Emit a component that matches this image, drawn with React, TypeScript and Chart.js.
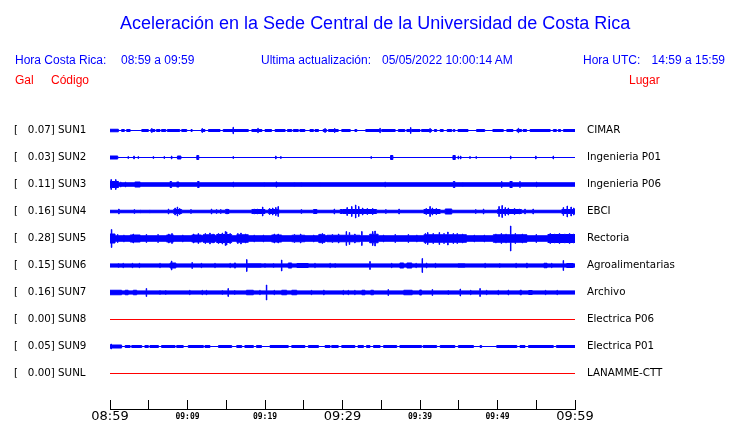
import React, { useEffect, useRef } from "react";
import { Chart, registerables } from "chart.js";

Chart.register(...registerables);

// ---------- data ----------
const STATIONS = ["SUN1", "SUN2", "SUN3", "SUN4", "SUN5", "SUN6", "SUN7", "SUN8", "SUN9", "SUNL"];
const PEAK_GAL = [0.07, 0.03, 0.11, 0.16, 0.28, 0.15, 0.16, 0.0, 0.05, 0.0];
const PLACES = [
  "CIMAR", "Ingenieria P01", "Ingenieria P06", "EBCI", "Rectoria",
  "Agroalimentarias", "Archivo", "Electrica P06", "Electrica P01", "LANAMME-CTT",
];
const TRACE_COLORS = ["#0000ff", "#0000ff", "#0000ff", "#0000ff", "#0000ff", "#0000ff", "#0000ff", "#ff0000", "#0000ff", "#ff0000"];
// background (noise) half-amplitude of each trace, gal
const BASE_GAL = [0, 0, 0.035, 0.025, 0.055, 0.032, 0.032, 0, 0, 0];

// minutes after 08:59
const TIME_TICKS = [0, 5, 10, 15, 20, 25, 30, 35, 40, 45, 50, 55, 60];
const TIME_LABELS = ["08:59", "", "09:09", "", "09:19", "", "09:29", "", "09:39", "", "09:49", "", "09:59"];
const BIG_LABELS = ["08:59", "09:29", "09:59"];

// [start minute, end minute, half-amplitude gal]
const SUN1_BLOCKS = [
  [0, 1.08, 0.025], [1.5, 1.85, 0.02], [2.15, 2.6, 0.02], [4.1, 4.95, 0.02], [5.25, 5.8, 0.02], [6.0, 6.45, 0.02],
  [6.65, 7.2, 0.02], [7.4, 9.0, 0.02], [9.25, 9.9, 0.02], [10.45, 10.6, 0.02], [11.8, 12.25, 0.02], [12.7, 14.2, 0.02],
  [14.6, 17.85, 0.02], [18.3, 19.6, 0.02], [20.0, 20.85, 0.02], [21.3, 22.6, 0.02], [22.9, 23.45, 0.02], [23.65, 24.3, 0.02],
  [24.5, 25.15, 0.02], [25.8, 26.25, 0.02], [26.45, 26.9, 0.02], [27.5, 27.95, 0.02], [28.2, 29.45, 0.02], [29.9, 31.0, 0.02],
  [31.6, 31.85, 0.02], [33.0, 34.85, 0.02], [35.05, 36.8, 0.02], [37.2, 38.05, 0.02], [38.3, 38.7, 0.02], [38.9, 40.0, 0.02],
  [40.2, 41.5, 0.02], [41.85, 42.15, 0.02], [42.6, 43.0, 0.02], [43.5, 44.1, 0.02], [44.3, 44.5, 0.02], [44.9, 46.2, 0.02],
  [47.3, 48.35, 0.02], [49.4, 50.75, 0.02], [51.2, 52.0, 0.02], [52.5, 53.1, 0.02], [53.3, 53.75, 0.02], [54.2, 56.8, 0.02],
  [57.2, 57.6, 0.02], [57.85, 58.15, 0.02], [58.5, 60, 0.02],
];
// [minute, half-amplitude gal]
const SUN1_SPIKES = [
  [5.4, 0.04], [11.9, 0.04], [15.9, 0.065], [19.1, 0.045], [27.75, 0.04], [29.0, 0.04],
  [34.85, 0.045], [38.8, 0.06], [41.3, 0.04], [52.7, 0.045],
];

const SUN2_BLOCKS = [[0, 1.0, 0.03], [8.7, 9.15, 0.03], [11.2, 11.45, 0.04], [36.2, 36.5, 0.04], [44.25, 44.55, 0.04]];
const SUN2_SPIKES = [
  [2.35, 0.02], [3.1, 0.03], [3.65, 0.02], [5.6, 0.02], [7.0, 0.02], [7.95, 0.03], [15.9, 0.02], [21.4, 0.03],
  [22.05, 0.02], [33.7, 0.02], [44.95, 0.03], [45.25, 0.03], [46.45, 0.02], [47.25, 0.02], [51.7, 0.03],
  [54.95, 0.03], [57.2, 0.03],
];

const SUN3_BLOCKS = [
  [0, 1.1, 0.06], [3.2, 3.9, 0.05], [7.75, 7.95, 0.06], [8.6, 8.9, 0.05], [11.3, 11.5, 0.06],
  [21.4, 21.55, 0.05], [44.3, 44.5, 0.06], [51.6, 51.9, 0.06],
];
const SUN3_SPIKES = [
  [0.15, 0.1], [0.75, 0.1], [1.4, 0.05], [2.0, 0.05], [15.9, 0.05], [19.9, 0.04], [23.8, 0.04], [24.7, 0.04],
  [27.1, 0.04], [35.5, 0.05], [45.5, 0.04], [50.55, 0.06], [52.9, 0.06], [55.05, 0.05], [59.6, 0.04],
];

const SUN4_BLOCKS = [
  [8.2, 9.25, 0.04], [14.9, 15.35, 0.04], [18.3, 20.0, 0.04], [20.45, 21.8, 0.04], [26.25, 26.7, 0.04],
  [29.7, 34.4, 0.04], [40.5, 42.6, 0.04], [43.25, 44.1, 0.05], [50.0, 53.1, 0.04], [58.3, 60, 0.04],
];
const SUN4_SPIKES = [
  [1.15, 0.05], [3.15, 0.04], [3.9, 0.03], [5.15, 0.03], [7.55, 0.05], [8.4, 0.07], [8.7, 0.09], [9.0, 0.06],
  [10.45, 0.04], [13.1, 0.05], [13.75, 0.04], [14.3, 0.04], [15.1, 0.05], [18.6, 0.05], [19.0, 0.05], [19.7, 0.09],
  [20.6, 0.06], [21.0, 0.07], [21.4, 0.08], [21.7, 0.1], [24.7, 0.04], [28.95, 0.05], [30.0, 0.04], [30.6, 0.08],
  [31.2, 0.1], [31.7, 0.13], [32.1, 0.1], [32.6, 0.07], [33.2, 0.06], [33.9, 0.06], [35.6, 0.04], [37.3, 0.05],
  [40.8, 0.06], [41.3, 0.1], [41.6, 0.07], [42.1, 0.06], [47.2, 0.04], [48.2, 0.05], [50.2, 0.1], [50.6, 0.12],
  [51.0, 0.08], [51.4, 0.07], [52.2, 0.06], [52.8, 0.05], [53.55, 0.05], [54.6, 0.05], [58.5, 0.08], [59.0, 0.11],
  [59.5, 0.09], [59.85, 0.07],
];

const SUN5_BLOCKS = [
  [0, 0.65, 0.09], [2.6, 3.9, 0.07], [7.3, 8.2, 0.07], [10.55, 11.8, 0.07], [12.0, 13.55, 0.075], [13.75, 15.7, 0.08],
  [16.35, 17.85, 0.075], [20.85, 22.15, 0.07], [23.45, 25.15, 0.065], [26.9, 27.75, 0.075], [28.0, 32.25, 0.065],
  [33.5, 34.6, 0.085], [40.5, 46.0, 0.075], [49.45, 53.8, 0.075], [56.5, 60, 0.08],
];
const SUN5_SPIKES = [
  [0.2, 0.18], [1.0, 0.08], [1.8, 0.07], [3.0, 0.09], [4.7, 0.08], [6.2, 0.08], [7.6, 0.09], [8.0, 0.1],
  [9.4, 0.07], [10.8, 0.09], [11.4, 0.1], [12.3, 0.1], [12.9, 0.11], [13.3, 0.09], [14.0, 0.1], [14.5, 0.11],
  [14.9, 0.14], [15.05, 0.13], [15.5, 0.1], [16.5, 0.1], [16.9, 0.11], [17.5, 0.09], [18.6, 0.07], [19.8, 0.07],
  [21.2, 0.09], [21.7, 0.09], [23.8, 0.08], [24.6, 0.09], [26.3, 0.07], [27.1, 0.09], [27.4, 0.1], [28.7, 0.08],
  [29.5, 0.09], [30.5, 0.14], [30.9, 0.12], [31.6, 0.09], [32.5, 0.14], [33.9, 0.14], [34.2, 0.15], [35.3, 0.07],
  [36.8, 0.08], [38.5, 0.08], [39.6, 0.07], [40.7, 0.1], [41.0, 0.12], [41.7, 0.1], [42.5, 0.12], [43.1, 0.1],
  [43.6, 0.13], [44.3, 0.1], [44.8, 0.1], [45.5, 0.09], [47.0, 0.07], [48.3, 0.07], [49.8, 0.09], [50.5, 0.1],
  [51.1, 0.09], [51.7, 0.25], [52.3, 0.1], [53.2, 0.09], [55.0, 0.08], [56.8, 0.1], [57.4, 0.09], [58.0, 0.1],
  [58.7, 0.09], [59.3, 0.1], [59.8, 0.09],
];

const SUN6_BLOCKS = [
  [7.75, 8.5, 0.05], [16.05, 16.2, 0.05], [17.65, 19.55, 0.035], [23.0, 23.45, 0.05], [24.1, 25.6, 0.04],
  [37.4, 37.9, 0.05], [38.3, 38.95, 0.05], [44.9, 45.8, 0.035], [56.0, 56.25, 0.045], [58.9, 59.8, 0.04],
];
const SUN6_SPIKES = [
  [1.1, 0.04], [1.7, 0.045], [2.9, 0.045], [3.8, 0.045], [6.45, 0.045], [7.95, 0.09], [10.6, 0.06], [11.8, 0.045],
  [13.55, 0.045], [15.5, 0.045], [17.65, 0.12], [20.0, 0.04], [21.1, 0.04], [22.15, 0.11], [26.45, 0.045],
  [28.4, 0.045], [29.05, 0.04], [33.55, 0.08], [36.35, 0.045], [39.5, 0.045], [40.3, 0.14], [40.85, 0.05],
  [42.0, 0.045], [48.4, 0.045], [50.3, 0.04], [52.4, 0.045], [53.8, 0.05], [56.35, 0.05], [57.0, 0.045], [58.5, 0.1],
];

const SUN7_BLOCKS = [
  [0, 1.5, 0.045], [1.95, 2.35, 0.045], [3.0, 3.45, 0.045], [17.6, 18.5, 0.045], [22.15, 22.8, 0.045], [23.45, 24.1, 0.045],
  [32.5, 32.9, 0.045], [33.65, 34.0, 0.045], [37.9, 39.0, 0.045], [39.95, 40.2, 0.05], [52.9, 53.1, 0.045], [54.0, 54.5, 0.04],
];
const SUN7_SPIKES = [
  [4.7, 0.08], [6.45, 0.04], [7.2, 0.04], [10.3, 0.045], [11.9, 0.045], [12.45, 0.045], [14.5, 0.04], [15.25, 0.08],
  [16.1, 0.04], [19.35, 0.045], [20.2, 0.15], [21.2, 0.045], [26.0, 0.045], [27.6, 0.05], [30.1, 0.045], [30.75, 0.045],
  [31.6, 0.045], [35.9, 0.06], [41.6, 0.06], [43.65, 0.04], [45.2, 0.07], [46.55, 0.045], [47.75, 0.08], [48.6, 0.045],
  [50.1, 0.045], [51.4, 0.05], [56.2, 0.045], [57.7, 0.045],
];

const SUN8_BLOCKS: number[][] = [];
const SUN8_SPIKES: number[][] = [];

const SUN9_BLOCKS = [
  [0, 1.5, 0.03], [1.95, 2.6, 0.02], [2.8, 4.1, 0.02], [4.5, 4.95, 0.02], [5.15, 6.25, 0.02], [6.65, 8.4, 0.02],
  [8.6, 9.45, 0.02], [10.1, 12.05, 0.02], [12.25, 12.9, 0.02], [14.0, 15.7, 0.02], [16.35, 17.0, 0.02],
  [17.4, 18.5, 0.02], [18.9, 19.55, 0.02], [20.65, 23.0, 0.02], [23.45, 25.15, 0.02], [25.6, 26.9, 0.02],
  [27.75, 28.4, 0.02], [28.6, 29.45, 0.02], [29.9, 31.6, 0.02], [32.0, 32.7, 0.02], [33.1, 33.55, 0.02],
  [34.0, 34.85, 0.02], [35.3, 37.0, 0.02], [37.4, 40.2, 0.02], [40.4, 42.15, 0.02], [42.6, 44.5, 0.02],
  [44.95, 46.9, 0.02], [47.75, 47.95, 0.02], [49.9, 52.5, 0.02], [52.9, 53.55, 0.02], [54.0, 57.2, 0.02],
  [57.6, 60, 0.02],
];
const SUN9_SPIKES = [[0.15, 0.05]];

const SUNL_BLOCKS: number[][] = [];
const SUNL_SPIKES: number[][] = [];

const TRACES = [
  { blocks: SUN1_BLOCKS, spikes: SUN1_SPIKES },
  { blocks: SUN2_BLOCKS, spikes: SUN2_SPIKES },
  { blocks: SUN3_BLOCKS, spikes: SUN3_SPIKES },
  { blocks: SUN4_BLOCKS, spikes: SUN4_SPIKES },
  { blocks: SUN5_BLOCKS, spikes: SUN5_SPIKES },
  { blocks: SUN6_BLOCKS, spikes: SUN6_SPIKES },
  { blocks: SUN7_BLOCKS, spikes: SUN7_SPIKES },
  { blocks: SUN8_BLOCKS, spikes: SUN8_SPIKES },
  { blocks: SUN9_BLOCKS, spikes: SUN9_SPIKES },
  { blocks: SUNL_BLOCKS, spikes: SUNL_SPIKES },
];

// scale: gal per trace row, and spike half-duration in minutes
const GAL_PER_ROW = 0.54;
const SPIKE_HALF = 0.03;
const T_MIN = 0;
const T_MAX = 60;

function envelope(base: number, blocks: number[][], spikes: number[][]) {
  const segs = [
    ...blocks.map(([a, b, v]) => [a, b, v]),
    ...spikes.map(([t, v]) => [t - SPIKE_HALF, t + SPIKE_HALF, v]),
  ];
  const cuts = new Set<number>([T_MIN, T_MAX]);
  segs.forEach(([a, b]) => {
    cuts.add(Math.max(T_MIN, Math.min(T_MAX, a)));
    cuts.add(Math.max(T_MIN, Math.min(T_MAX, b)));
  });
  const xs = [...cuts].sort((p, q) => p - q);
  const amps = xs.map((x, i) => {
    if (i === xs.length - 1) return -1;
    const probe = (x + xs[i + 1]) / 2;
    let a = base;
    segs.forEach(([s, e, v]) => {
      if (probe >= s && probe < e && v > a) a = v;
    });
    return a;
  });
  amps[amps.length - 1] = amps.length > 1 ? amps[amps.length - 2] : base;
  return xs.map((x, i) => ({ x, a: amps[i] }));
}

const BLUE = "#0000ff";
const RED = "#ff0000";

export default function App() {
  const ref = useRef<HTMLCanvasElement>(null);

  useEffect(() => {
    if (!ref.current) return;
    const datasets: any[] = [];
    TRACES.forEach((tr, i) => {
      const env = envelope(BASE_GAL[i], tr.blocks, tr.spikes);
      const color = TRACE_COLORS[i];
      const common = {
        type: "line",
        borderColor: color,
        backgroundColor: color,
        borderWidth: 1,
        stepped: "before",
        pointRadius: 0,
        tension: 0,
        yAxisID: "y",
        xAxisID: "x",
      };
      datasets.push({ ...common, data: env.map((p) => ({ x: p.x, y: i - p.a / GAL_PER_ROW })), fill: false });
      datasets.push({ ...common, data: env.map((p) => ({ x: p.x, y: i + p.a / GAL_PER_ROW })), fill: "-1" });
    });

    const yMin = -1 - 0.5 / 27;
    const yMax = yMin + 306 / 27;

    const noPad = (s: any, w: number) => {
      s.width = w;
      s.paddingTop = 0;
      s.paddingBottom = 0;
    };

    const chart = new Chart(ref.current, {
      type: "line",
      data: { datasets },
      options: {
        animation: false,
        responsive: false,
        maintainAspectRatio: false,
        events: [],
        layout: { padding: { left: 14, right: 0, top: 103, bottom: 0 }, autoPadding: false },
        plugins: { legend: { display: false }, tooltip: { enabled: false }, title: { display: false } },
        scales: {
          x: {
            type: "linear",
            position: "bottom",
            min: T_MIN,
            max: T_MAX,
            afterBuildTicks: (s: any) => {
              s.ticks = TIME_TICKS.map((v) => ({ value: v }));
            },
            afterFit: (s: any) => {
              s.height = 14;
              s.paddingLeft = 0;
              s.paddingRight = 0;
            },
            ticks: {
              autoSkip: false,
              maxRotation: 0,
              minRotation: 0,
              padding: 9,
              color: "#000",
              callback: (v: any) => {
                const idx = TIME_TICKS.indexOf(Number(v));
                return idx >= 0 ? TIME_LABELS[idx] : "";
              },
              font: (ctx: any) => {
                const idx = TIME_TICKS.indexOf(ctx.tick ? ctx.tick.value : -1);
                const lab = idx >= 0 ? TIME_LABELS[idx] : "";
                if (BIG_LABELS.includes(lab)) {
                  return { family: "DejaVu Sans", size: 13, lineHeight: 1.2, weight: "normal" };
                }
                return { family: "DejaVu Sans Mono", size: 8, lineHeight: 1.95, weight: "bold" };
              },
            },
            grid: { display: true, drawOnChartArea: false, drawTicks: true, tickLength: -9, color: "#000", lineWidth: 1 },
            border: { display: true, color: "#000", width: 1 },
          },
          y: {
            type: "linear",
            position: "left",
            reverse: true,
            min: yMin,
            max: yMax,
            afterBuildTicks: (s: any) => {
              s.ticks = STATIONS.map((_, i) => ({ value: i }));
            },
            afterFit: (s: any) => noPad(s, 96),
            ticks: {
              autoSkip: false,
              crossAlign: "far",
              color: "#000",
              font: { family: "DejaVu Sans", size: 10.3 },
              callback: (v: any) => {
                const i = Number(v);
                return `[   ${PEAK_GAL[i].toFixed(2)}] ${STATIONS[i]}`;
              },
            },
            grid: { display: false },
            border: { display: false },
          },
          y2: {
            type: "linear",
            position: "right",
            reverse: true,
            min: yMin,
            max: yMax,
            afterBuildTicks: (s: any) => {
              s.ticks = PLACES.map((_, i) => ({ value: i }));
            },
            afterFit: (s: any) => noPad(s, 165),
            ticks: {
              autoSkip: false,
              padding: 4,
              color: "#000",
              font: { family: "DejaVu Sans", size: 10.3 },
              callback: (v: any) => PLACES[Number(v)],
            },
            grid: { display: false },
            border: { display: false },
          },
        },
      } as any,
    });
    return () => chart.destroy();
  }, []);

  const txt = (extra: any) => ({
    position: "absolute" as const,
    whiteSpace: "nowrap" as const,
    fontFamily: '"Liberation Sans", Arial, sans-serif',
    fontSize: 12,
    lineHeight: "12px",
    ...extra,
  });

  return (
    <div style={{ position: "absolute", left: 0, top: 0, width: 740, height: 423, background: "#fff", overflow: "hidden" }}>
      <canvas ref={ref} width={740} height={423} style={{ position: "absolute", left: 0, top: 0, width: 740, height: 423 }} />
      <div style={txt({ left: 120, top: 14, fontSize: 18, lineHeight: "18px", color: BLUE })}>
        Aceleración en la Sede Central de la Universidad de Costa Rica
      </div>
      <div style={txt({ left: 15, top: 54, color: BLUE })}>Hora Costa Rica:</div>
      <div style={txt({ left: 121, top: 54, color: BLUE })}>08:59 a 09:59</div>
      <div style={txt({ left: 261, top: 54, color: BLUE })}>Ultima actualización:</div>
      <div style={txt({ left: 382, top: 54, color: BLUE })}>05/05/2022 10:00:14 AM</div>
      <div style={txt({ left: 583, top: 54, color: BLUE })}>Hora UTC:</div>
      <div style={txt({ right: 15, top: 54, color: BLUE })}>14:59 a 15:59</div>
      <div style={txt({ left: 15, top: 74, color: RED })}>Gal</div>
      <div style={txt({ left: 51, top: 74, color: RED })}>Código</div>
      <div style={txt({ left: 629, top: 74, color: RED })}>Lugar</div>
    </div>
  );
}
